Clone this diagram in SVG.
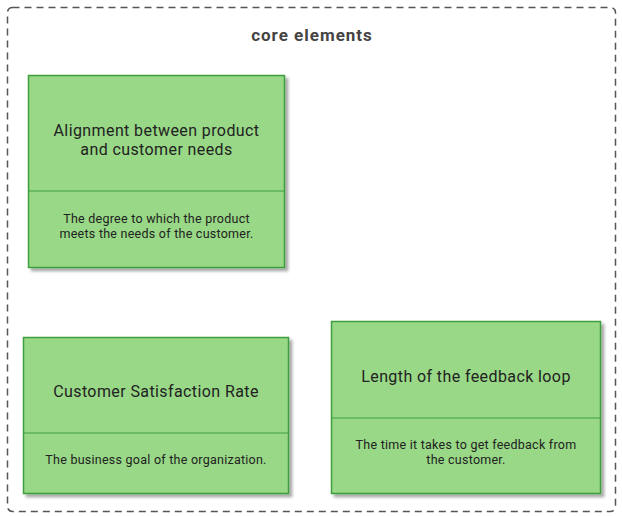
<svg xmlns="http://www.w3.org/2000/svg" width="622" height="516" viewBox="0 0 622 516">
<defs>
<filter id="sh" x="-10%" y="-10%" width="130%" height="130%">
<feGaussianBlur in="SourceAlpha" stdDeviation="1.5"/>
<feOffset dx="3" dy="3" result="b"/>
<feComponentTransfer><feFuncA type="linear" slope="0.35"/></feComponentTransfer>
<feMerge><feMergeNode/><feMergeNode in="SourceGraphic"/></feMerge>
</filter>
<style>
.box{fill:#98D886;stroke:#3E9E3E;stroke-width:1.5;}
.div{stroke:#3E9E3E;stroke-width:1;}
.t{font-family:Roboto,"Liberation Sans",sans-serif;font-size:16px;letter-spacing:0.4px;fill:#222;text-anchor:middle;}
.d{font-family:Roboto,"Liberation Sans",sans-serif;font-size:12.5px;letter-spacing:0.25px;fill:#222;text-anchor:middle;}
.title{font-family:Roboto,"Liberation Sans",sans-serif;font-size:17px;letter-spacing:1px;font-weight:bold;fill:#444;text-anchor:middle;}
</style>
</defs>
<rect width="622" height="516" fill="#fff"/>
<g id="boundary">
<rect x="7.5" y="7.5" width="608" height="504" rx="5" fill="none" stroke="#555" stroke-width="1.5" stroke-dasharray="7,5"/>
<text class="title" x="312" y="41">core elements</text>
</g>
<g id="node-alignment">
<rect class="box" x="28.5" y="75.5" width="256" height="192" filter="url(#sh)"/>
<line class="div" x1="28.5" y1="191" x2="284.5" y2="191"/>
<text class="t" x="156.5" y="136">Alignment between product</text>
<text class="t" x="156.5" y="155">and customer needs</text>
<text class="d" x="156.5" y="223">The degree to which the product</text>
<text class="d" x="156.5" y="238">meets the needs of the customer.</text>
</g>
<g id="node-satisfaction">
<rect class="box" x="23.5" y="337.5" width="265" height="156" filter="url(#sh)"/>
<line class="div" x1="23.5" y1="433" x2="288.5" y2="433"/>
<text class="t" x="156" y="397">Customer Satisfaction Rate</text>
<text class="d" x="156" y="464">The business goal of the organization.</text>
</g>
<g id="node-feedback">
<rect class="box" x="331.5" y="321.5" width="269" height="172" filter="url(#sh)"/>
<line class="div" x1="331.5" y1="418" x2="600.5" y2="418"/>
<text class="t" x="466" y="382">Length of the feedback loop</text>
<text class="d" x="466" y="449">The time it takes to get feedback from</text>
<text class="d" x="466" y="464">the customer.</text>
</g>
<g id="connectors"></g>
</svg>
